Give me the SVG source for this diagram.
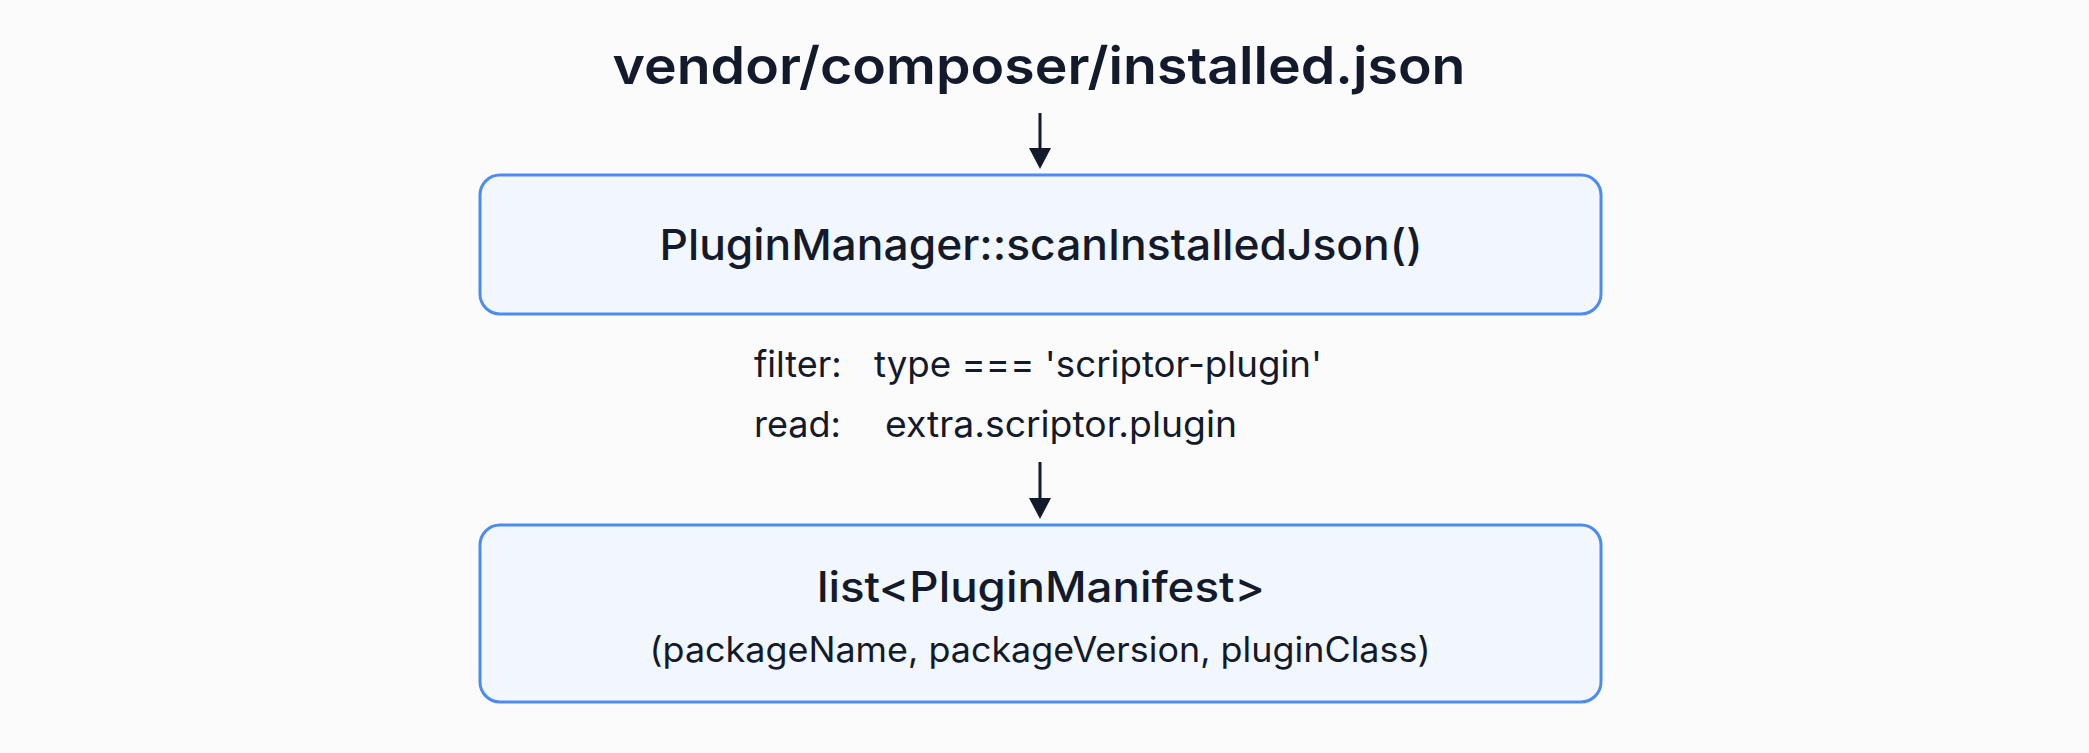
<svg xmlns="http://www.w3.org/2000/svg" width="2089" height="753" viewBox="0 0 2089 753">
<defs>
<style>
.bg{fill:#fbfbfc}
.box{fill:#f2f6fd;stroke:#4d8bf0;stroke-width:3}
.t{font-family:Inter,"Liberation Sans",sans-serif;fill:#121a2b;text-anchor:middle}
.l{font-family:Inter,"Liberation Sans",sans-serif;fill:#121a2b}
.conn{stroke:#121a2b;stroke-width:3;fill:none}
</style>
</defs>
<rect class="bg" x="0" y="0" width="2089" height="753"/>
<g id="source">
<text class="t" x="1039" y="84" font-size="52" font-weight="600" textLength="853" lengthAdjust="spacingAndGlyphs">vendor/composer/installed.json</text>
</g>
<g id="connectors">
<line class="conn" x1="1040" y1="113" x2="1040" y2="150"/>
<path d="M1029,148 L1051,148 L1040,169 Z" fill="#121a2b"/>
<line class="conn" x1="1040" y1="462" x2="1040" y2="500"/>
<path d="M1029,498 L1051,498 L1040,519 Z" fill="#121a2b"/>
</g>
<g id="scan">
<rect class="box" x="480" y="175" width="1121" height="139" rx="20"/>
<text class="t" x="1041" y="260" font-size="43" font-weight="500" textLength="763" lengthAdjust="spacingAndGlyphs">PluginManager::scanInstalledJson()</text>
</g>
<g id="rules">
<text class="l" x="754" y="377" font-size="36">filter:</text>
<text class="l" x="874" y="377" font-size="36" textLength="448" lengthAdjust="spacingAndGlyphs">type === 'scriptor-plugin'</text>
<text class="l" x="754" y="437" font-size="36">read:</text>
<text class="l" x="885" y="437" font-size="36" textLength="352" lengthAdjust="spacingAndGlyphs">extra.scriptor.plugin</text>
</g>
<g id="manifest">
<rect class="box" x="480" y="525" width="1121" height="177" rx="20"/>
<text class="t" x="1041" y="602" font-size="42" font-weight="500" textLength="448" lengthAdjust="spacingAndGlyphs">list&lt;PluginManifest&gt;</text>
<text class="t" x="1040" y="662" font-size="35" textLength="781" lengthAdjust="spacingAndGlyphs">(packageName, packageVersion, pluginClass)</text>
</g>
</svg>
